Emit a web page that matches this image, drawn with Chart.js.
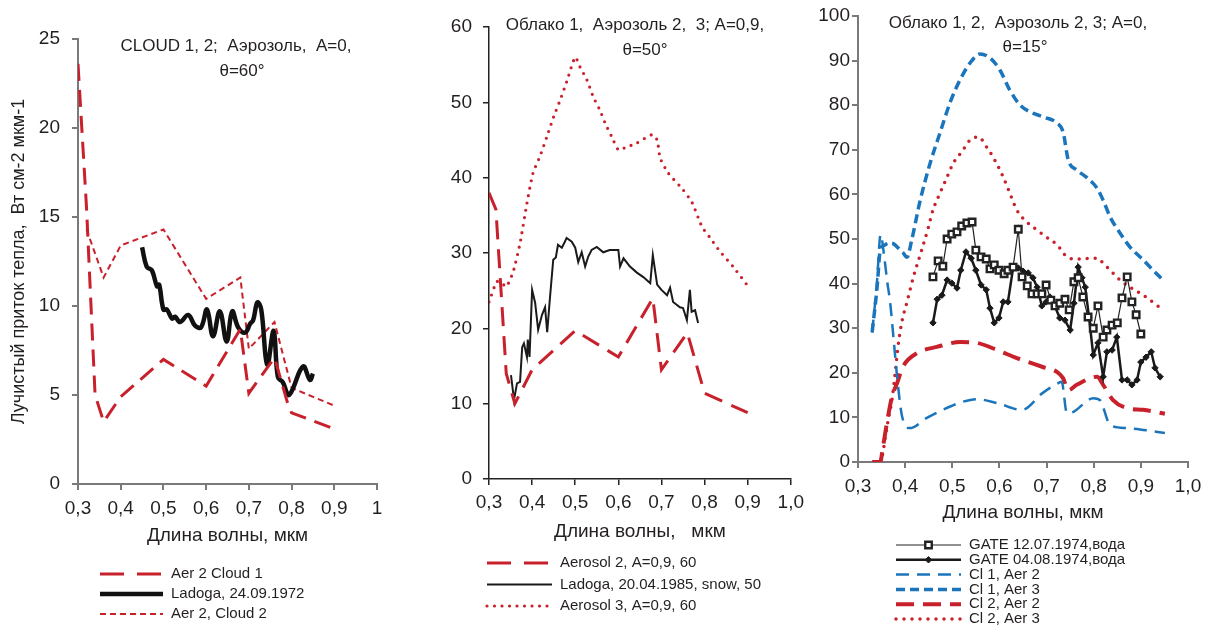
<!DOCTYPE html>
<html>
<head>
<meta charset="utf-8">
<script src="https://cdn.jsdelivr.net/npm/chart.js@4.4.0/dist/chart.umd.min.js"></script>
<style>
  html, body { margin: 0; padding: 0; background: #fff; }
  #wrap { position: relative; width: 1216px; height: 625px; overflow: hidden; }
  canvas { position: absolute; top: 0; }
</style>
</head>
<body>
<div id="wrap">
  <canvas id="c1" width="410" height="625" style="left:0px"></canvas>
  <canvas id="c2" width="400" height="625" style="left:410px"></canvas>
  <canvas id="c3" width="406" height="625" style="left:810px"></canvas>
</div>
<script>
// ---- panel 1: CLOUD 1, 2; A=0, theta=60
const p1Cl1X = [0.30, 0.32, 0.34, 0.36, 0.40, 0.50, 0.60, 0.68, 0.70, 0.76, 0.79, 0.80, 0.90];
const p1Cl1Y = [23.6, 15.5, 5.0, 3.5, 4.9, 7.0, 5.5, 8.7, 5.1, 7.1, 4.6, 4.0, 3.1];
const p1LadX = [0.450, 0.461, 0.473, 0.485, 0.490, 0.500, 0.508, 0.520, 0.527, 0.539, 0.558, 0.574, 0.588, 0.602, 0.616, 0.632, 0.648, 0.661, 0.675, 0.691, 0.703, 0.710, 0.720, 0.729, 0.743, 0.758, 0.768, 0.780, 0.792, 0.800, 0.827, 0.843, 0.850];
const p1LadY = [13.3, 12.2, 12.0, 11.1, 11.2, 9.8, 9.8, 9.3, 9.4, 9.1, 9.5, 8.9, 8.8, 9.8, 8.3, 9.7, 8.0, 9.7, 8.8, 8.5, 9.0, 9.2, 10.2, 9.8, 6.7, 8.6, 6.0, 5.7, 5.0, 5.2, 6.6, 5.85, 6.2];
const p1Cl2X = [0.32, 0.36, 0.40, 0.50, 0.60, 0.68, 0.70, 0.76, 0.80, 0.90];
const p1Cl2Y = [14.3, 11.6, 13.4, 14.3, 10.4, 11.6, 7.6, 9.1, 5.4, 4.4];

// ---- panel 2: Облако 1, Аэрозоль 2, 3; A=0,9, theta=50
const p2Aer2X = [0.30, 0.316, 0.34, 0.36, 0.40, 0.50, 0.60, 0.68, 0.70, 0.76, 0.80, 0.90];
const p2Aer2Y = [38.0, 35.8, 14.0, 10.0, 14.5, 19.7, 16.2, 24.0, 14.5, 19.4, 11.4, 8.8];
const p2LadX = [0.351, 0.358, 0.365, 0.372, 0.377, 0.381, 0.388, 0.390, 0.394, 0.400, 0.407, 0.414, 0.423, 0.430, 0.435, 0.441, 0.449, 0.455, 0.460, 0.469, 0.476, 0.480, 0.492, 0.500, 0.507, 0.515, 0.523, 0.530, 0.538, 0.550, 0.565, 0.580, 0.600, 0.604, 0.612, 0.627, 0.643, 0.658, 0.674, 0.680, 0.690, 0.700, 0.713, 0.720, 0.727, 0.743, 0.750, 0.759, 0.766, 0.770, 0.778, 0.785];
const p2LadY = [13.8, 10.5, 12.7, 12.9, 17.5, 18.0, 16.2, 18.5, 16.2, 25.1, 23.4, 19.8, 21.8, 22.8, 19.5, 23.8, 29.1, 29.4, 31.1, 30.7, 31.5, 32.0, 31.5, 30.7, 28.8, 30.1, 28.2, 29.5, 30.4, 30.8, 30.1, 30.4, 30.4, 28.2, 29.3, 28.2, 27.4, 26.8, 26.0, 29.7, 25.8, 25.1, 24.4, 25.4, 23.5, 22.8, 22.7, 21.1, 25.1, 22.2, 22.4, 20.7];
const p2Aer3X = [0.30, 0.318, 0.33, 0.34, 0.356, 0.372, 0.388, 0.402, 0.418, 0.434, 0.45, 0.465, 0.48, 0.50, 0.511, 0.527, 0.542, 0.557, 0.569, 0.585, 0.60, 0.616, 0.643, 0.678, 0.69, 0.697, 0.716, 0.75, 0.771, 0.794, 0.813, 0.836, 0.866, 0.898];
const p2Aer3Y = [23.5, 26.2, 26.0, 25.5, 27.5, 31.3, 36.6, 40.6, 42.8, 45.4, 48.1, 50.3, 52.7, 56.0, 54.7, 53.0, 50.7, 49.0, 47.3, 45.4, 43.7, 44.0, 44.6, 45.7, 45.0, 42.6, 40.6, 38.4, 36.7, 33.5, 32.0, 30.2, 28.2, 25.8];

// ---- panel 3: Облако 1, 2, Аэрозоль 2, 3; A=0, theta=15
const gate1X = [0.459, 0.470, 0.480, 0.489, 0.499, 0.510, 0.520, 0.531, 0.542, 0.550, 0.561, 0.572, 0.580, 0.589, 0.599, 0.610, 0.618, 0.629, 0.640, 0.648, 0.659, 0.669, 0.680, 0.690, 0.699, 0.709, 0.718, 0.728, 0.739, 0.748, 0.758, 0.767, 0.777, 0.788, 0.799, 0.809, 0.820, 0.828, 0.839, 0.850, 0.860, 0.871, 0.881, 0.890, 0.900];
const gate1Y = [41.5, 45.1, 43.9, 50.0, 51.1, 51.6, 52.9, 53.6, 53.8, 47.5, 46.0, 45.5, 43.3, 44.2, 43.0, 42.2, 43.0, 43.7, 52.2, 41.5, 39.5, 37.7, 37.7, 37.7, 39.7, 36.3, 35.0, 35.6, 36.5, 34.1, 40.4, 41.3, 37.0, 32.5, 30.0, 35.0, 28.0, 29.6, 30.7, 31.2, 36.8, 41.5, 35.9, 33.0, 28.7];
const gate2X = [0.459, 0.468, 0.478, 0.489, 0.499, 0.510, 0.518, 0.529, 0.540, 0.550, 0.561, 0.572, 0.580, 0.589, 0.599, 0.608, 0.618, 0.629, 0.640, 0.650, 0.661, 0.671, 0.680, 0.690, 0.699, 0.707, 0.718, 0.728, 0.739, 0.750, 0.758, 0.767, 0.775, 0.782, 0.790, 0.799, 0.809, 0.820, 0.828, 0.839, 0.849, 0.860, 0.871, 0.881, 0.892, 0.900, 0.911, 0.922, 0.930, 0.941];
const gate2Y = [31.2, 36.5, 37.4, 40.8, 40.1, 39.0, 43.0, 47.1, 45.7, 43.0, 39.7, 38.6, 34.5, 31.2, 32.3, 35.9, 35.9, 43.5, 43.5, 42.8, 42.4, 41.3, 39.2, 35.0, 35.9, 37.0, 34.8, 32.3, 31.8, 29.6, 35.6, 43.7, 41.3, 39.2, 32.5, 24.0, 26.7, 19.1, 24.7, 25.1, 28.0, 18.4, 18.4, 17.3, 18.4, 22.4, 23.5, 24.7, 21.1, 19.1];
const cl1a2X = [0.330, 0.340, 0.348, 0.356, 0.362, 0.368, 0.376, 0.384, 0.393, 0.410, 0.446, 0.480, 0.522, 0.552, 0.595, 0.648, 0.692, 0.725, 0.732, 0.743, 0.756, 0.799, 0.813, 0.835, 0.870, 0.905, 0.951];
const cl1a2Y = [29.0, 40.0, 51.0, 45.7, 40.4, 36.0, 27.0, 18.0, 10.5, 7.6, 9.9, 11.7, 13.5, 14.1, 13.2, 11.7, 15.5, 17.7, 18.0, 11.0, 11.2, 14.3, 13.9, 8.3, 7.6, 7.2, 6.5];
const cl1a3X = [0.330, 0.340, 0.348, 0.356, 0.364, 0.374, 0.385, 0.395, 0.404, 0.414, 0.432, 0.453, 0.474, 0.495, 0.516, 0.538, 0.559, 0.580, 0.601, 0.622, 0.644, 0.665, 0.692, 0.722, 0.735, 0.746, 0.764, 0.786, 0.807, 0.820, 0.835, 0.856, 0.877, 0.905, 0.926, 0.947];
const cl1a3Y = [29.1, 38.6, 48.0, 48.6, 49.1, 49.0, 48.0, 47.0, 45.9, 49.8, 58.7, 67.0, 73.8, 80.5, 85.6, 89.5, 91.5, 90.6, 87.9, 83.4, 80.0, 78.5, 77.4, 76.0, 74.0, 67.7, 65.5, 63.7, 61.4, 58.7, 54.9, 51.3, 48.2, 45.3, 43.0, 40.8];
const cl2a2X = [0.330, 0.347, 0.353, 0.360, 0.372, 0.383, 0.395, 0.425, 0.467, 0.517, 0.552, 0.595, 0.637, 0.692, 0.722, 0.735, 0.746, 0.764, 0.807, 0.820, 0.841, 0.870, 0.905, 0.951];
const cl2a2Y = [0, 0, 3.4, 7.9, 14.6, 17.7, 21.3, 24.4, 25.8, 26.9, 26.7, 25.1, 23.3, 21.3, 20.2, 18.8, 16.1, 17.3, 19.1, 17.3, 13.9, 12.1, 11.7, 10.8];
const cl2a3X = [0.347, 0.352, 0.357, 0.364, 0.372, 0.378, 0.385, 0.393, 0.404, 0.417, 0.435, 0.449, 0.459, 0.474, 0.489, 0.502, 0.520, 0.538, 0.555, 0.573, 0.590, 0.608, 0.622, 0.637, 0.658, 0.680, 0.700, 0.722, 0.743, 0.764, 0.807, 0.820, 0.835, 0.856, 0.877, 0.905, 0.947];
const cl2a3Y = [0, 1.6, 4.9, 9.4, 13.9, 19.1, 26.0, 31.4, 35.9, 41.3, 47.5, 52.5, 56.5, 60.3, 63.9, 67.0, 69.5, 72.2, 72.9, 70.6, 67.7, 63.9, 60.3, 56.5, 53.8, 52.0, 50.4, 48.7, 46.0, 45.5, 45.7, 44.6, 43.0, 40.8, 39.2, 37.4, 34.1];

const RED = '#c9212c';
const BLUE = '#1b75bc';
const INK = '#231f20';
const FONT = '"Liberation Sans", Arial, sans-serif';

Chart.defaults.font.family = FONT;
Chart.defaults.color = INK;

function pts(xs, ys){
  return xs.map((x, i) => ({x: x, y: ys[i]}));
}

function fmtX(v, oneAsInt){
  const r = Math.round(v * 10) / 10;
  if (oneAsInt && r === 1) return '1';
  return r.toFixed(1).replace('.', ',');
}

// titles inside the plot + one legend row per dataset under the axis
const panelText = {
  id: 'panelText',
  afterDraw(chart, args, opts){
    const ctx = chart.ctx;
    ctx.save();
    ctx.fillStyle = INK;
    ctx.textBaseline = 'middle';
    ctx.textAlign = 'center';
    ctx.font = opts.titleFont;
    opts.title.forEach(t => ctx.fillText(t.text, t.x, t.y));

    const lg = opts.legend;
    chart.data.datasets.forEach((ds, i) => {
      const y = lg.y + i * lg.dy;
      ctx.save();
      ctx.strokeStyle = ds.borderColor;
      ctx.lineWidth = ds.legendWidth || ds.borderWidth;
      ctx.setLineDash(ds.legendDash || ds.borderDash || []);
      ctx.lineCap = ds.borderCapStyle || 'butt';
      ctx.beginPath();
      ctx.moveTo(lg.x0, y);
      ctx.lineTo(lg.x1, y);
      ctx.stroke();
      ctx.restore();
      if (ds.pointRadius > 0){
        const cx = (lg.x0 + lg.x1) / 2;
        ctx.save();
        ctx.fillStyle = ds.pointBackgroundColor;
        ctx.strokeStyle = ds.pointBorderColor;
        ctx.lineWidth = ds.pointBorderWidth;
        ctx.beginPath();
        if (ds.pointStyle === 'rect'){
          const s = ds.pointRadius * Math.SQRT1_2;
          ctx.rect(cx - s, y - s, 2 * s, 2 * s);
        } else {
          const r = ds.pointRadius;
          ctx.moveTo(cx, y - r); ctx.lineTo(cx + r, y); ctx.lineTo(cx, y + r); ctx.lineTo(cx - r, y); ctx.closePath();
        }
        ctx.fill();
        ctx.stroke();
        ctx.restore();
      }
      ctx.textAlign = 'left';
      ctx.font = lg.font;
      ctx.fillStyle = INK;
      ctx.fillText(ds.label, lg.tx, y);
    });
    ctx.restore();
  }
};

function makeScales(o){
  return {
    x: {
      type: 'linear', min: 0.3, max: 1.0,
      border: {display: true, color: o.axisColor, width: o.axisWidth},
      grid: {display: true, drawOnChartArea: false, drawTicks: true, tickLength: 6, color: o.axisColor, lineWidth: o.axisWidth},
      ticks: {stepSize: 0.1, padding: o.xTickPad, font: {size: 19}, color: INK, maxRotation: 0, autoSkip: false,
        callback: v => fmtX(v, o.oneAsInt)},
      title: {display: true, text: o.xTitle, font: {size: 19}, color: INK, padding: {top: 0, bottom: 0}},
      afterFit: s => { s.height = o.xHeight; }
    },
    y: {
      type: 'linear', min: 0, max: o.yMax,
      border: {display: true, color: o.axisColor, width: o.axisWidth},
      grid: {display: true, drawOnChartArea: false, drawTicks: true, tickLength: 6, color: o.axisColor, lineWidth: o.axisWidth},
      ticks: {stepSize: o.yStep, padding: o.yTickPad, font: {size: 19}, color: INK},
      title: {display: !!o.yTitle, text: o.yTitle || '', font: {size: 18}, color: INK, padding: {top: 8, bottom: 0}},
      afterFit: s => { s.width = o.yWidth; }
    }
  };
}

function makeChart(id, datasets, o){
  return new Chart(document.getElementById(id), {
    type: 'line',
    data: {datasets: datasets},
    plugins: [panelText],
    options: {
      responsive: false,
      animation: false,
      devicePixelRatio: 1,
      layout: {padding: o.padding},
      elements: {point: {radius: 0}},
      plugins: {
        legend: {display: false},
        tooltip: {enabled: false},
        panelText: {titleFont: '17px ' + FONT, title: o.title, legend: o.legend}
      },
      scales: makeScales(o)
    }
  });
}

// panel 1
makeChart('c1', [
  {label: 'Aer 2 Cloud 1', data: pts(p1Cl1X, p1Cl1Y), borderColor: RED, borderWidth: 3, borderDash: [17, 9], pointRadius: 0, tension: 0, legendDash: [24, 13]},
  {label: 'Ladoga, 24.09.1972', data: pts(p1LadX, p1LadY), borderColor: '#111', borderWidth: 4.5, pointRadius: 0, tension: 0.4},
  {label: 'Aer 2, Cloud 2', data: pts(p1Cl2X, p1Cl2Y), borderColor: RED, borderWidth: 2, borderDash: [6, 4], pointRadius: 0, tension: 0}
], {
  padding: {left: 0, top: 39, right: 33, bottom: 78},
  xHeight: 63, yWidth: 78, xTickPad: 7, yTickPad: 12,
  axisColor: '#7a7a7a', axisWidth: 2, oneAsInt: true,
  yMax: 25, yStep: 5,
  xTitle: 'Длина волны, мкм',
  yTitle: 'Лучистый приток тепла,  Вт см-2 мкм-1',
  title: [{text: 'CLOUD 1, 2;  Аэрозоль,  A=0,', x: 236, y: 46}, {text: 'θ=60°', x: 242, y: 71}],
  legend: {x0: 100, x1: 163, tx: 171, y: 574, dy: 20, font: '15px ' + FONT}
});

// panel 2
makeChart('c2', [
  {label: 'Aerosol 2, A=0,9, 60', data: pts(p2Aer2X, p2Aer2Y), borderColor: RED, borderWidth: 3, borderDash: [19, 10], pointRadius: 0, tension: 0, legendDash: [24, 13]},
  {label: 'Ladoga, 20.04.1985, snow, 50', data: pts(p2LadX, p2LadY), borderColor: '#1a1a1a', borderWidth: 2, pointRadius: 0, tension: 0},
  {label: 'Aerosol 3, A=0,9, 60', data: pts(p2Aer3X, p2Aer3Y), borderColor: RED, borderWidth: 3.2, borderDash: [0, 7.5], borderCapStyle: 'round', pointRadius: 0, tension: 0.2}
], {
  padding: {left: 0, top: 27, right: 19, bottom: 82},
  xHeight: 64, yWidth: 79, xTickPad: 6, yTickPad: 11,
  axisColor: '#222', axisWidth: 1.5, oneAsInt: false,
  yMax: 60, yStep: 10,
  xTitle: 'Длина волны,   мкм',
  title: [{text: 'Облако 1,  Аэрозоль 2,  3; A=0,9,', x: 225, y: 25}, {text: 'θ=50°', x: 235, y: 50}],
  legend: {x0: 77, x1: 142, tx: 150, y: 563, dy: 21.5, font: '15px ' + FONT}
});

// panel 3
makeChart('c3', [
  {label: 'GATE 12.07.1974,вода', data: pts(gate1X, gate1Y), borderColor: '#222', borderWidth: 1.2, tension: 0,
    pointStyle: 'rect', pointRadius: 4.6, pointBorderWidth: 2.4, pointBackgroundColor: '#fff', pointBorderColor: '#222', legendWidth: 1.2},
  {label: 'GATE 04.08.1974,вода', data: pts(gate2X, gate2Y), borderColor: '#1a1a1a', borderWidth: 2.5, tension: 0,
    pointStyle: 'rectRot', pointRadius: 3.2, pointBorderWidth: 1, pointBackgroundColor: '#1a1a1a', pointBorderColor: '#1a1a1a'},
  {label: 'Cl 1, Aer 2', data: pts(cl1a2X, cl1a2Y), borderColor: BLUE, borderWidth: 2.5, borderDash: [13, 8], pointRadius: 0, cubicInterpolationMode: 'monotone'},
  {label: 'Cl 1, Aer 3', data: pts(cl1a3X, cl1a3Y), borderColor: BLUE, borderWidth: 3.5, borderDash: [9, 5], pointRadius: 0, cubicInterpolationMode: 'monotone'},
  {label: 'Cl 2, Aer 2', data: pts(cl2a2X, cl2a2Y), borderColor: RED, borderWidth: 4, borderDash: [18, 9], pointRadius: 0, cubicInterpolationMode: 'monotone'},
  {label: 'Cl 2, Aer 3', data: pts(cl2a3X, cl2a3Y), borderColor: RED, borderWidth: 3.5, borderDash: [0, 8], borderCapStyle: 'round', pointRadius: 0, cubicInterpolationMode: 'monotone'}
], {
  padding: {left: 0, top: 16, right: 28, bottom: 101},
  xHeight: 62, yWidth: 48, xTickPad: 7, yTickPad: 2,
  axisColor: '#7a7a7a', axisWidth: 2, oneAsInt: false,
  yMax: 100, yStep: 10,
  xTitle: 'Длина волны, мкм',
  title: [{text: 'Облако 1, 2,  Аэрозоль 2, 3; A=0,', x: 208, y: 23}, {text: 'θ=15°', x: 215, y: 47}],
  legend: {x0: 86, x1: 151, tx: 159, y: 545, dy: 14.8, font: '15px ' + FONT}
});
</script>
</body>
</html>
